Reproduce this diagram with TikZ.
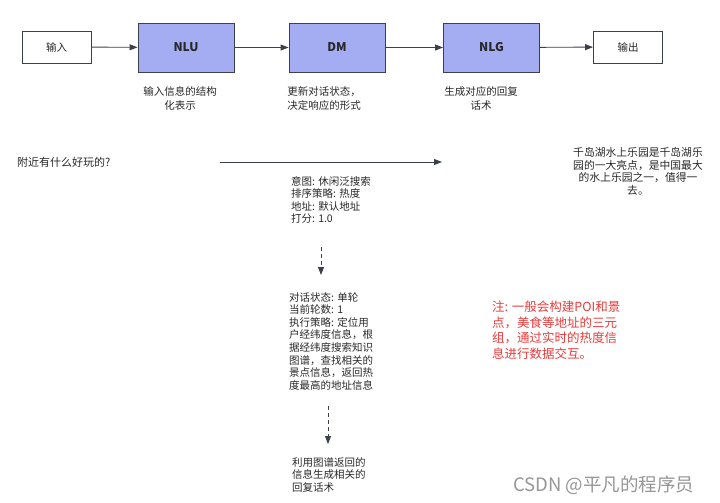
\documentclass[tikz,border=0pt]{standalone}
\usepackage{fontspec}
\setmainfont{Noto Sans CJK SC}
\usetikzlibrary{arrows.meta}
\definecolor{boxblue}{RGB}{164,172,242}
\definecolor{edgegray}{RGB}{60,64,74}
\definecolor{txtgray}{RGB}{40,40,40}
\definecolor{notered}{RGB}{232,58,58}
\definecolor{markgray}{RGB}{150,150,150}
\tikzset{
  plainbox/.style={draw=edgegray, line width=0.9pt, fill=white, minimum width=69pt, minimum height=32pt, inner sep=0pt, font=\fontsize{10.5}{12}\selectfont, text=txtgray},
  bluebox/.style={draw=edgegray, line width=0.9pt, fill=boxblue, minimum width=96pt, minimum height=49pt, inner sep=0pt, font=\fontsize{12}{14}\selectfont\bfseries, text=txtgray},
  flow/.style={draw=edgegray, line width=0.9pt, -{Triangle[length=8pt,width=6pt]}},
  dflow/.style={draw=edgegray, line width=0.9pt, dashed, dash pattern=on 4pt off 3pt, -{Triangle[length=8pt,width=6pt]}},
  lbl/.style={inner sep=0pt, text=txtgray, font=\fontsize{10.5}{14.5}\selectfont, align=center, anchor=north},
  blk/.style={inner sep=0pt, text=txtgray, font=\fontsize{10.5}{12.6}\selectfont, align=left, anchor=north west},
}
\begin{document}
\begin{tikzpicture}[x=1pt,y=-1pt]
\useasboundingbox (0,0) rectangle (720,503);
% top row
\node[plainbox] (in) at (56.5,47) {输入};
\node[bluebox] (nlu) at (186,47.5) {NLU};
\node[bluebox] (dm) at (337,47.5) {DM};
\node[bluebox] (nlg) at (491.5,47.5) {NLG};
\node[plainbox] (out) at (628,47) {输出};
\draw[flow] (in) -- (nlu);
\draw[flow] (nlu) -- (dm);
\draw[flow] (dm) -- (nlg);
\draw[flow] (nlg) -- (out);
% labels under boxes
\node[lbl] (l1) at (180,86) {输入信息的结构\\化表示};
\node[lbl] (l2) at (324,86) {更新对话状态，\\决定响应的形式};
\node[lbl] (l3) at (481,86) {生成对应的回复\\话术};
% question and answer
\node[inner sep=0pt, anchor=west, text=txtgray, font=\fontsize{11}{13}\selectfont] (q) at (17,162) {附近有什么好玩的?};
\coordinate (qa1) at (220,162);
\coordinate (qa2) at (442,162);
\draw[flow] (qa1) -- (qa2);
\node[inner sep=0pt, anchor=north, text=txtgray, font=\fontsize{10.8}{12.8}\selectfont, align=center] (ans) at (638,147) {千岛湖水上乐园是千岛湖乐\\园的一大亮点，是中国最大\\的水上乐园之一，值得一\\去。};
% blocks
\node[blk] (b1) at (291,176) {意图: 休闲泛搜索\\排序策略: 热度\\地址: 默认地址\\打分: 1.0};
\coordinate (d1a) at (321,247);
\coordinate (d1b) at (321,275);
\draw[dflow] (d1a) -- (d1b);
\node[blk] (b2) at (289,292) {对话状态: 单轮\\当前轮数: 1\\执行策略: 定位用\\户经纬度信息，根\\据经纬度搜索知识\\图谱，查找相关的\\景点信息，返回热\\度最高的地址信息};
\coordinate (d2a) at (328,406);
\coordinate (d2b) at (328,444);
\draw[dflow] (d2a) -- (d2b);
\node[blk] (b3) at (292,457) {利用图谱返回的\\信息生成相关的\\回复话术};
% note
\node[inner sep=0pt, anchor=north west, text=notered, font=\fontsize{12.5}{15.5}\selectfont, align=left] (note) at (492,301) {注: 一般会构建POI和景\\点，美食等地址的三元\\组，通过实时的热度信\\息进行数据交互。};
% watermark
\node[inner sep=0pt, anchor=west, text=markgray, font=\fontsize{18.5}{21}\selectfont] (wm) at (513,485) {CSDN @平凡的程序员};
\end{tikzpicture}
\end{document}
